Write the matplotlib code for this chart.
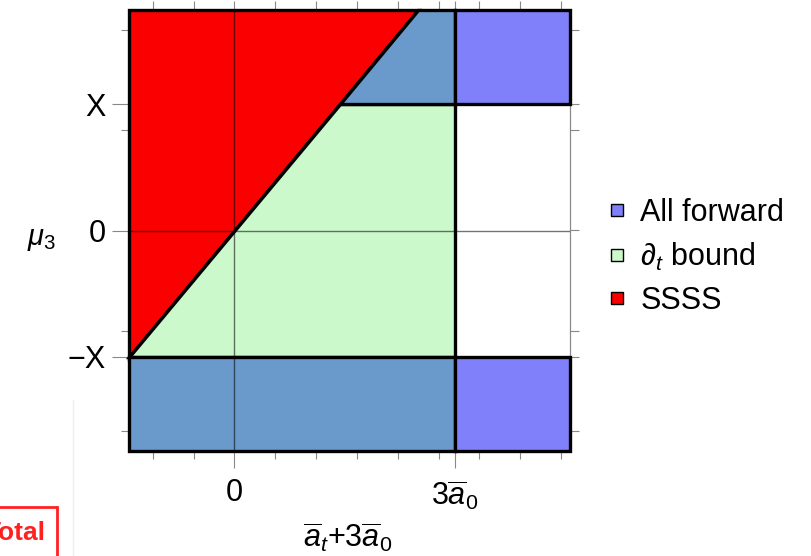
import numpy as np
import matplotlib.pyplot as plt
from matplotlib.lines import Line2D
from matplotlib.patches import Rectangle, Polygon

plt.rcParams['font.family'] = 'Liberation Sans'
plt.rcParams['mathtext.fontset'] = 'custom'
plt.rcParams['mathtext.rm'] = 'Liberation Sans'
plt.rcParams['mathtext.it'] = 'Liberation Sans:italic'

# boundaries (x measured in minor-tick units)
X = 1.26        # mu3 cut
x_diag = 2.58   # where the SSSS edge reaches mu3 = X
a3 = 5.4        # 3*abar_0
xlim = (-x_diag, 8.22)
ylim = (-2.2, 2.2)

xticks = [0, a3]
xticklabels = ['0', r'$3\overline{a}_0$']
yticks = [-X, 0, X]
yticklabels = ['\u2212X', '0', 'X']
xminor = np.arange(-2, 9)
yminor = [-2, -1, 1, 2]

labels = ['All forward', r'$\partial_t$ bound', 'SSSS']
colors = ['#8080fa', '#ccf9cc', '#fa0000']
overlap = '#6a9acc'

fig = plt.figure(figsize=(8.12, 5.56), dpi=100)
ax = fig.add_axes([129/812, 1-451/556, 441/812, 441/556])
ax.set_xlim(xlim)
ax.set_ylim(ylim)

y_bot, y_top = ylim
x_left, x_right = xlim
x_top = x_diag * y_top / X

regions = [
    ([(x_left, -X), (x_left, y_top), (x_top, y_top)], colors[2]),
    ([(x_left, -X), (a3, -X), (a3, X), (x_diag, X)], colors[1]),
    ([(x_diag, X), (a3, X), (a3, y_top), (x_top, y_top)], overlap),
    ([(x_left, y_bot), (a3, y_bot), (a3, -X), (x_left, -X)], overlap),
    ([(a3, X), (x_right, X), (x_right, y_top), (a3, y_top)], colors[0]),
    ([(a3, y_bot), (x_right, y_bot), (x_right, -X), (a3, -X)], colors[0]),
]
for pts, c in regions:
    ax.add_patch(Polygon(pts, closed=True, facecolor=c, edgecolor='black',
                         lw=2.4, joinstyle='miter', zorder=3, clip_on=False))

ax.axvline(0, color='black', lw=1, alpha=0.55, zorder=4)
ax.axhline(0, color='black', lw=1, alpha=0.55, zorder=4)

for s in ax.spines.values():
    s.set_color('#888888')
    s.set_linewidth(0.8)

ax.set_xticks(xticks)
ax.set_xticklabels(xticklabels)
ax.set_yticks(yticks)
ax.set_yticklabels(yticklabels)
ax.set_xticks(xminor, minor=True)
ax.set_yticks(yminor, minor=True)
ax.tick_params(which='both', direction='out', color='#888888', width=0.8,
               labelsize=22)
ax.tick_params(which='major', length=12.5, pad=4)
ax.tick_params(axis='x', which='major', pad=7)
ax.tick_params(which='minor', length=6)

# short unlabelled ticks on the top and right edges
top = ax.secondary_xaxis('top')
top.set_xticks(xticks, labels=[])
top.set_xticks(xminor, minor=True)
right = ax.secondary_yaxis('right')
right.set_yticks(yticks, labels=[])
right.set_yticks(yminor, minor=True)
for sec in (top, right):
    sec.tick_params(which='both', direction='out', color='#888888', width=0.8,
                    length=6.5)
    for s in sec.spines.values():
        s.set_color('#888888')
        s.set_linewidth(0.8)

ax.set_ylabel(r'$\mu_3$', rotation=0, fontsize=21, ha='right', va='center')
ax.yaxis.set_label_coords(-0.165, 0.48)
ax.set_xlabel(r'$\overline{a}_t$+3$\overline{a}_0$', fontsize=22, va='center')
ax.xaxis.set_label_coords(0.495, -0.195)

handles = [Line2D([], [], marker='s', ls='', markersize=9, markerfacecolor=c,
                  markeredgecolor='black', markeredgewidth=1) for c in colors]
fig.legend(handles, labels, loc='center left', bbox_to_anchor=(605/812, 1-257/556),
           frameon=False, fontsize=22, handletextpad=0.35, labelspacing=0.43,
           handlelength=0.8, borderpad=0, borderaxespad=0)

# stray box at the lower left
fig.add_artist(Rectangle((-20/812, -20/556), 77/812, 69/556, transform=fig.transFigure,
                         facecolor='none', edgecolor='#ff2020', lw=2, clip_on=False))
fig.text(46/812, 1-533/556, 'Total', color='#ff2020', fontsize=19, fontweight='bold',
         ha='right', va='center')
fig.add_artist(Line2D([73/812, 73/812], [0, 1-400/556], transform=fig.transFigure,
                      color='#eeeeee', lw=1))

fig.savefig('out.png', dpi=100)
